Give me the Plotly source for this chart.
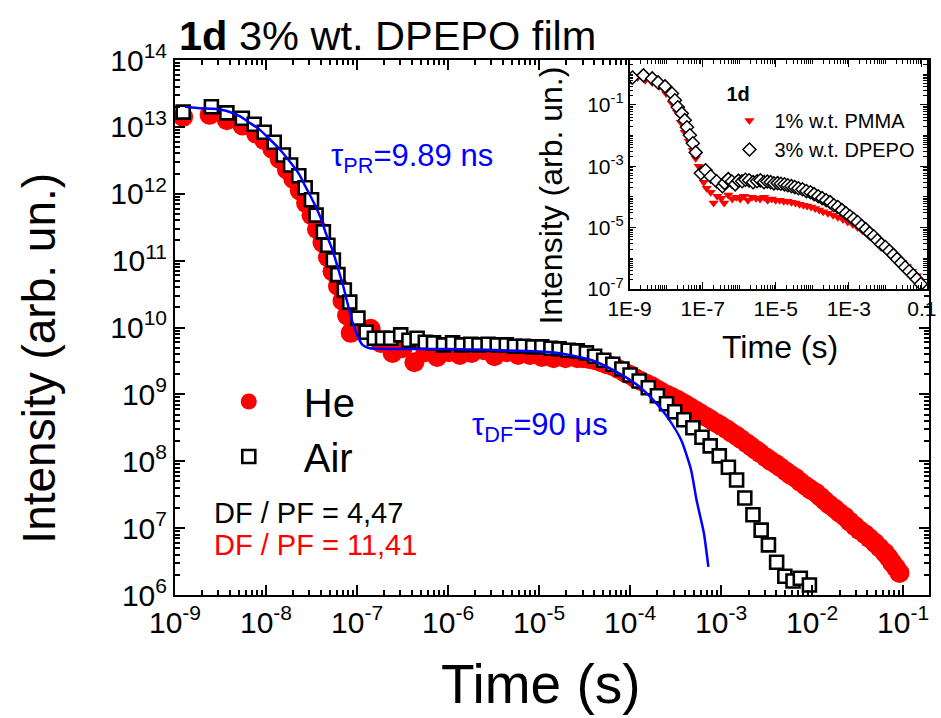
import numpy as np
import plotly.graph_objects as go

# ---------------- data (log10 values) ----------------
# Main panel: He (red circles)
he_log_t = [-8.91, -8.62, -8.43, -8.26, -8.11, -8.02, -7.93, -7.85, -7.77, -7.70, -7.63, -7.56, -7.50, -7.44,
            -7.38, -7.32, -7.27, -7.21, -7.16, -7.11, -7.07, -6.97, -6.85, -6.74, -6.61, -6.50, -6.37, -6.25,
            -6.12, -5.99, -5.87, -5.74, -5.61, -5.49, -5.36, -5.23, -5.10, -4.97, -4.84, -4.71, -4.58, -4.52,
            -4.45, -4.39, -4.32, -4.26, -4.19, -4.13, -4.06, -4.00, -3.94, -3.88, -3.82, -3.76, -3.70, -3.65,
            -3.59, -3.54, -3.48, -3.43, -3.38, -3.33, -3.27, -3.22, -3.16, -3.11, -3.05, -3.00, -2.94, -2.89,
            -2.83, -2.78, -2.72, -2.67, -2.62, -2.57, -2.51, -2.46, -2.40, -2.35, -2.29, -2.24, -2.18, -2.13,
            -2.07, -2.02, -1.96, -1.91, -1.86, -1.81, -1.75, -1.70, -1.64, -1.59, -1.53, -1.48, -1.42, -1.37,
            -1.31, -1.26, -1.20, -1.16, -1.12, -1.08, -1.04]
he_log_i = [13.15, 13.18, 13.10, 13.02, 12.90, 12.80, 12.67, 12.52, 12.36, 12.22, 12.05, 11.86, 11.68, 11.47,
            11.27, 11.05, 10.84, 10.62, 10.40, 10.18, 9.92, 9.96, 9.98, 9.77, 9.62, 9.69, 9.48, 9.63,
            9.56, 9.63, 9.59, 9.62, 9.66, 9.57, 9.63, 9.59, 9.59, 9.56, 9.54, 9.54, 9.54, 9.54,
            9.53, 9.51, 9.48, 9.45, 9.42, 9.38, 9.33, 9.29, 9.24, 9.20, 9.16, 9.12, 9.07, 9.03,
            8.99, 8.96, 8.92, 8.88, 8.84, 8.80, 8.75, 8.71, 8.66, 8.62, 8.57, 8.53, 8.48, 8.43,
            8.38, 8.33, 8.27, 8.22, 8.17, 8.12, 8.06, 8.01, 7.96, 7.91, 7.85, 7.80, 7.75, 7.69,
            7.63, 7.58, 7.53, 7.47, 7.41, 7.35, 7.29, 7.23, 7.17, 7.10, 7.03, 6.97, 6.91, 6.85,
            6.78, 6.71, 6.63, 6.56, 6.48, 6.41, 6.33]

# Main panel: Air (open squares)
air_log_t = [-8.91, -8.60, -8.43, -8.26, -8.13, -8.02, -7.91, -7.81, -7.73, -7.64, -7.57, -7.50, -7.45, -7.37,
             -7.32, -7.26, -7.21, -7.14, -7.08, -6.99, -6.90, -6.81, -6.72, -6.63, -6.52, -6.43, -6.34, -6.25,
             -6.16, -6.05, -5.95, -5.85, -5.75, -5.66, -5.56, -5.46, -5.36, -5.27, -5.17, -5.07, -4.97, -4.87,
             -4.78, -4.68, -4.58, -4.48, -4.39, -4.29, -4.19, -4.09, -4.00, -3.90, -3.80, -3.70, -3.60, -3.51,
             -3.41, -3.31, -3.21, -3.12, -3.02, -2.92, -2.83, -2.74, -2.65, -2.56, -2.48, -2.39, -2.30, -2.21,
             -2.13, -2.03]
air_log_i = [13.22, 13.30, 13.21, 13.13, 13.04, 12.92, 12.77, 12.58, 12.43, 12.27, 12.09, 11.91, 11.68, 11.43,
             11.23, 11.01, 10.79, 10.56, 10.38, 10.14, 9.93, 9.84, 9.84, 9.84, 9.89, 9.81, 9.84, 9.78,
             9.77, 9.74, 9.77, 9.74, 9.75, 9.74, 9.75, 9.74, 9.74, 9.72, 9.72, 9.71, 9.71, 9.69,
             9.68, 9.66, 9.65, 9.62, 9.57, 9.51, 9.45, 9.38, 9.29, 9.20, 9.10, 8.98, 8.86, 8.74,
             8.62, 8.50, 8.36, 8.23, 8.08, 7.91, 7.72, 7.45, 7.20, 6.97, 6.75, 6.49, 6.28, 6.21,
             6.25, 6.15]

# Main panel: fit (blue line)
fit_log_t = [-8.89, -8.73, -8.57, -8.44, -8.29, -8.19, -8.08, -7.97, -7.86, -7.75, -7.64, -7.56, -7.48, -7.40,
             -7.34, -7.27, -7.21, -7.15, -7.10, -7.05, -6.99, -6.94, -6.86, -6.67, -6.01, -5.15, -4.79, -4.42,
             -4.14, -3.92, -3.77, -3.59, -3.44, -3.33, -3.27, -3.19, -3.14]
fit_log_i = [13.30, 13.28, 13.27, 13.24, 13.16, 13.07, 12.97, 12.83, 12.68, 12.50, 12.30, 12.09, 11.88, 11.64,
             11.40, 11.16, 10.89, 10.61, 10.34, 10.08, 9.86, 9.74, 9.69, 9.68, 9.68, 9.65, 9.62, 9.51,
             9.33, 9.14, 8.95, 8.66, 8.32, 7.87, 7.42, 6.93, 6.42]

# Inset: 1% w.t. PMMA (red down-triangles)
pmma_log_t = [-8.95, -8.78, -8.57, -8.38, -8.19, -8.00, -7.84, -7.70, -7.60, -7.49, -7.38, -7.27, -7.19, -7.11,
              -7.03, -6.97, -6.89, -6.78, -6.70, -6.60, -6.49, -6.41, -6.30, -6.19, -6.08, -5.97, -5.87, -5.76,
              -5.65, -5.54, -5.43, -5.32, -5.22, -5.11, -5.00, -4.89, -4.78, -4.68, -4.57, -4.46, -4.35, -4.24,
              -4.14, -4.03, -3.92, -3.81, -3.70, -3.57, -3.43, -3.30, -3.16, -3.03, -2.89, -2.76, -2.62, -2.49,
              -2.35, -2.22, -2.08, -1.95, -1.81, -1.68, -1.54, -1.41, -1.27, -1.14]
pmma_log_i = [-0.20, -0.11, -0.20, -0.27, -0.40, -0.63, -0.95, -1.24, -1.57, -1.89, -2.19, -2.48, -2.74, -3.00,
              -3.29, -3.52, -3.72, -3.85, -4.20, -3.98, -4.04, -4.20, -3.94, -4.07, -4.01, -4.07, -3.98, -4.11,
              -4.01, -4.04, -4.07, -4.01, -4.11, -4.07, -4.11, -4.11, -4.14, -4.14, -4.17, -4.20, -4.24, -4.27,
              -4.30, -4.33, -4.38, -4.43, -4.48, -4.53, -4.60, -4.66, -4.74, -4.82, -4.90, -5.00, -5.10, -5.22,
              -5.34, -5.46, -5.58, -5.71, -5.85, -5.99, -6.13, -6.27, -6.42, -6.57]

# Inset: 3% w.t. DPEPO (open diamonds)
dpepo_log_t = [-8.92, -8.62, -8.38, -8.22, -8.03, -7.84, -7.76, -7.68, -7.57, -7.49, -7.43, -7.35, -7.27, -7.19,
               -7.05, -6.92, -6.78, -6.62, -6.46, -6.40, -6.30, -6.20, -6.11, -6.02, -5.92, -5.83, -5.73, -5.62,
               -5.51, -5.42, -5.32, -5.23, -5.14, -5.05, -4.95, -4.86, -4.76, -4.67, -4.57, -4.48, -4.38, -4.27,
               -4.16, -4.05, -3.95, -3.84, -3.73, -3.62, -3.51, -3.41, -3.30, -3.19, -3.08, -2.97, -2.87, -2.76,
               -2.65, -2.54, -2.43, -2.32, -2.22, -2.11, -2.00, -1.89, -1.78, -1.68, -1.57, -1.46, -1.35, -1.24,
               -1.14, -1.03]
dpepo_log_i = [-0.11, -0.04, -0.14, -0.27, -0.40, -0.63, -0.85, -1.08, -1.28, -1.50, -1.73, -1.99, -2.25, -2.55,
               -3.23, -3.13, -3.33, -3.49, -3.65, -3.55, -3.42, -3.50, -3.59, -3.47, -3.49, -3.44, -3.46, -3.52,
               -3.49, -3.46, -3.52, -3.50, -3.52, -3.56, -3.55, -3.57, -3.59, -3.62, -3.65, -3.68, -3.72, -3.75,
               -3.81, -3.85, -3.91, -3.98, -4.04, -4.11, -4.17, -4.27, -4.33, -4.43, -4.53, -4.63, -4.72, -4.82,
               -4.95, -5.05, -5.18, -5.28, -5.41, -5.54, -5.63, -5.76, -5.89, -6.02, -6.15, -6.29, -6.42, -6.55,
               -6.68, -6.84]

# tick labels
main_x_exp = [-9, -8, -7, -6, -5, -4, -3, -2, -1]
main_y_exp = [6, 7, 8, 9, 10, 11, 12, 13, 14]
inset_x_vals = [1e-9, 1e-7, 1e-5, 1e-3, 1e-1]
inset_x_text = ["1E-9", "1E-7", "1E-5", "1E-3", "0.1"]
inset_y_exp = [-7, -5, -3, -1]

# ---------------- figure ----------------
W, H = 941, 718
L, R, T, B = 175, 3, 60, 123
PW, PH = W - L - R, H - T - B


def px(x):
    return (x - L) / PW


def py(y):
    return (T + PH - y) / PH


FONT = "Arial, Liberation Sans, sans-serif"
RED = "#ff0000"
BLUE = "#0000ff"

minor_main = [m * 10.0 ** k for k in range(-12, 16) for m in range(2, 10)]
minor_inset = [m * 10.0 ** k for k in range(-12, 3) for m in range(2, 10)] + \
              [10.0 ** k for k in range(-12, 3) if k % 2 == 0]


def pw(a):
    return 10.0 ** np.array(a)


fig = go.Figure()

fig.add_trace(go.Scatter(x=pw(he_log_t), y=pw(he_log_i), mode="markers", name="He",
                         marker=dict(symbol="circle", size=20, color=RED, line=dict(width=0)),
                         legend="legend"))
fig.add_trace(go.Scatter(x=pw(air_log_t), y=pw(air_log_i), mode="markers", name="Air",
                         marker=dict(symbol="square", size=13, color="white",
                                     line=dict(width=2.6, color="black")),
                         legend="legend"))
fig.add_trace(go.Scatter(x=pw(fit_log_t), y=pw(fit_log_i), mode="lines", name="fit",
                         line=dict(color=BLUE, width=2.5, shape="spline", smoothing=0.6),
                         showlegend=False))

fig.add_trace(go.Scatter(x=pw(pmma_log_t), y=pw(pmma_log_i), mode="markers", name="1% w.t. PMMA",
                         marker=dict(symbol="triangle-down", size=9, color=RED, line=dict(width=0)),
                         xaxis="x2", yaxis="y2", legend="legend2"))
fig.add_trace(go.Scatter(x=pw(dpepo_log_t), y=pw(dpepo_log_i), mode="markers", name="3% w.t. DPEPO",
                         marker=dict(symbol="diamond", size=10, color="white",
                                     line=dict(width=1.5, color="black")),
                         xaxis="x2", yaxis="y2", legend="legend2"))

axis_common = dict(type="log", showgrid=False, zeroline=False, showline=True, linecolor="black",
                   ticks="inside", mirror="allticks", tickcolor="black", tickmode="array",
                   ticklabeloverflow="allow")

fig.update_layout(
    width=W, height=H, margin=dict(l=L, r=R, t=T, b=B),
    paper_bgcolor="white", plot_bgcolor="white",
    font=dict(family=FONT, color="black"),
    xaxis=dict(axis_common, domain=[0, 1], range=[-9, -0.716], linewidth=2, tickwidth=1.5, ticklen=10,
               tickvals=[10.0 ** e for e in main_x_exp],
               ticktext=["10<sup>%d</sup>" % e for e in main_x_exp],
               tickfont=dict(size=30, family=FONT),
               minor=dict(tickmode="array", tickvals=minor_main, ticks="inside", ticklen=5,
                          tickwidth=1.5, tickcolor="black", showgrid=False)),
    yaxis=dict(axis_common, domain=[0, 1], range=[6, 14], linewidth=2, tickwidth=1.5, ticklen=10,
               tickvals=[10.0 ** e for e in main_y_exp],
               ticktext=["10<sup>%d</sup>" % e for e in main_y_exp],
               tickfont=dict(size=30, family=FONT),
               minor=dict(tickmode="array", tickvals=minor_main, ticks="inside", ticklen=5,
                          tickwidth=1.5, tickcolor="black", showgrid=False)),
    xaxis2=dict(axis_common, domain=[px(635), px(936)], anchor="y2", range=[-9, -0.86], linewidth=1.5,
                tickwidth=1.2, ticklen=7,
                tickvals=inset_x_vals, ticktext=inset_x_text, tickfont=dict(size=21, family=FONT),
                minor=dict(tickmode="array", tickvals=minor_inset, ticks="inside", ticklen=4,
                           tickwidth=1, tickcolor="black", showgrid=False)),
    yaxis2=dict(axis_common, domain=[py(289), 1], anchor="x2", range=[-7, 0.46], linewidth=1.5,
                tickwidth=1.2, ticklen=7,
                tickvals=[10.0 ** e for e in inset_y_exp],
                ticktext=["10<sup>%d</sup>" % e for e in inset_y_exp],
                tickfont=dict(size=21, family=FONT),
                minor=dict(tickmode="array", tickvals=minor_inset, ticks="inside", ticklen=4,
                           tickwidth=1, tickcolor="black", showgrid=False)),
    legend=dict(x=px(194), y=py(369), xanchor="left", yanchor="top", bgcolor="rgba(0,0,0,0)",
                font=dict(size=40, family=FONT), itemwidth=100, tracegroupgap=0),
    legend2=dict(x=px(731), y=py(75), xanchor="left", yanchor="top", bgcolor="rgba(0,0,0,0)",
                 font=dict(size=20, family=FONT), itemwidth=40,
                 title=dict(text="<b>1d</b>", font=dict(size=20, family=FONT))),
    showlegend=True,
)

annotations = [
    dict(x=px(177), y=py(35), text="<b>1d</b> 3% wt. DPEPO film", font=dict(size=41.5),
         xanchor="left", yanchor="middle"),
    dict(x=px(37), y=py(358), text="Intensity (arb. un.)", textangle=-90, font=dict(size=46),
         xanchor="center", yanchor="middle"),
    dict(x=px(545), y=py(684), text="Time (s)", font=dict(size=55), xanchor="center", yanchor="middle"),
    dict(x=px(331), y=py(158), text="τ<sub>PR</sub>=9.89 ns", font=dict(size=31, color=BLUE),
         xanchor="left", yanchor="middle"),
    dict(x=px(474), y=py(427), text="τ<sub>DF</sub>=90 μs", font=dict(size=31, color=BLUE),
         xanchor="left", yanchor="middle"),
    dict(x=px(212), y=py(513), text="DF / PF = 4,47", font=dict(size=29, color="black"),
         xanchor="left", yanchor="middle"),
    dict(x=px(212), y=py(545), text="DF / PF = 11,41", font=dict(size=29, color=RED),
         xanchor="left", yanchor="middle"),
    dict(x=px(555), y=py(196), text="Intensity (arb. un.)", textangle=-90, font=dict(size=32),
         xanchor="center", yanchor="middle"),
    dict(x=px(787), y=py(347), text="Time (s)", font=dict(size=32), xanchor="center", yanchor="middle"),
]
for a in annotations:
    a.update(xref="paper", yref="paper", showarrow=False)
    a["font"].setdefault("family", FONT)
    a["font"].setdefault("color", "black")
fig.update_layout(annotations=annotations)

fig.write_html("out.html")
